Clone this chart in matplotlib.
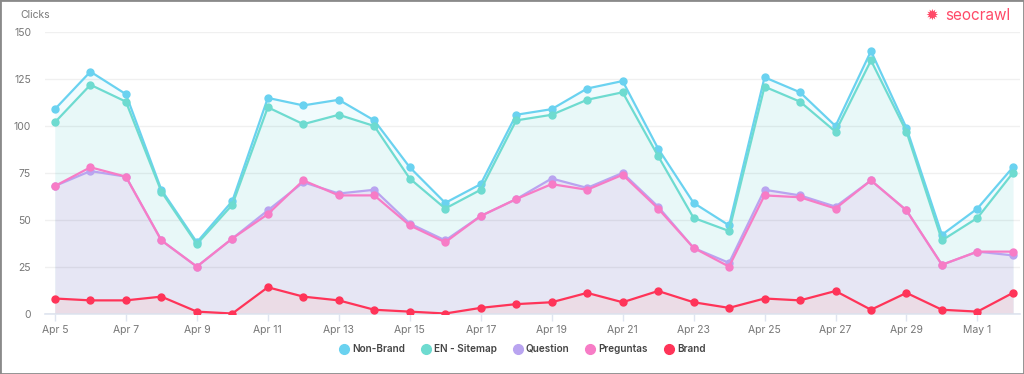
import matplotlib
matplotlib.use("Agg")
import matplotlib.pyplot as plt
from matplotlib.patches import Rectangle
from matplotlib.lines import Line2D

plt.rcParams["font.family"] = ["Inter", "DejaVu Sans"]

days = ["Apr %d" % d for d in range(5, 31)] + ["May 1", "May 2"]

non_brand = [109, 129, 117, 66, 38, 60, 115, 111, 114, 103, 78, 59, 69, 106,
             109, 120, 124, 88, 59, 47, 126, 118, 100, 140, 99, 42, 56, 78]
en_sitemap = [102, 122, 113, 65, 37, 58, 110, 101, 106, 100, 72, 56, 66, 103,
              106, 114, 118, 84, 51, 44, 121, 113, 97, 135, 97, 39, 51, 75]
question = [68, 76, 73, 39, 25, 40, 55, 70, 64, 66, 48, 39, 52, 61,
            72, 67, 75, 57, 35, 27, 66, 63, 57, 71, 55, 26, 33, 31]
preguntas = [68, 78, 73, 39, 25, 40, 53, 71, 63, 63, 47, 38, 52, 61,
             69, 66, 74, 56, 35, 25, 63, 62, 56, 71, 55, 26, 33, 33]
brand = [8, 7, 7, 9, 1, 0, 14, 9, 7, 2, 1, 0, 3, 5,
         6, 11, 6, 12, 6, 3, 8, 7, 12, 2, 11, 2, 1, 11]

# name, values, line colour, fill colour
series = [
    ("Non-Brand", non_brand, "#6ad2f0", "#f1fbfd"),
    ("EN - Sitemap", en_sitemap, "#6edbd0", "#e8f8f8"),
    ("Question", question, "#b9a4f0", "#e6e6f4"),
    ("Preguntas", preguntas, "#f77cc6", None),
    ("Brand", brand, "#ff3458", "#ebdce6"),
]

fig = plt.figure(figsize=(10.24, 3.74), dpi=100)
ax = fig.add_axes([45 / 1024, 60.5 / 374, 975 / 1024, 281.2 / 374])

x = list(range(len(days)))
for name, vals, color, fc in series:
    if fc:
        ax.fill_between(x, 0, vals, color=fc, lw=0, zorder=1)
for name, vals, color, fc in series:
    ax.plot(x, vals, color=color, lw=1.6, marker="o", ms=5, zorder=3)

ax.set_xlim(-0.28, 27.2)
ax.set_ylim(0, 150)
ax.set_yticks([0, 25, 50, 75, 100, 125, 150])
ax.grid(axis="y", color="#000000", alpha=0.06, lw=1, zorder=2)
ax.set_axisbelow(False)
for s in ["top", "right", "left"]:
    ax.spines[s].set_visible(False)
ax.spines["bottom"].set_color("#dfe5f0")
ax.spines["bottom"].set_linewidth(1.2)

ax.set_xticks(x[::2])
ax.set_xticklabels(days[::2])
ax.tick_params(axis="x", colors="#dfe5f0", length=5, width=1, labelcolor="#777777",
               labelsize=7.5, pad=3)
ax.tick_params(axis="y", length=0, labelcolor="#777777", labelsize=7.5, pad=10)

fig.text(20 / 1024, 1 - 15 / 374, "Clicks", fontsize=7.5, color="#777777",
         va="center", ha="left")
fig.text(1010 / 1024, 1 - 15 / 374, "seocrawl", fontsize=11, color="#ff4a68",
         va="center", ha="right")
fig.text(938 / 1024, 1 - 15 / 374, "\u2739", fontsize=11, color="#ff4a68",
         va="center", ha="right", family="DejaVu Sans")

handles = [Line2D([], [], ls="none", marker="o", ms=7, color=c, label=n)
           for n, v, c, f in series]
leg = fig.legend(handles=handles, loc="center", bbox_to_anchor=(0.51, 1 - 349 / 374),
                 ncol=5, frameon=False, fontsize=7.2, handletextpad=0.3,
                 columnspacing=1.6, handlelength=1.0)
for t in leg.get_texts():
    t.set_color("#444444")
    t.set_fontweight("semibold")

fig.patches.append(Rectangle((0, 0), 1, 1, transform=fig.transFigure, fill=False,
                             edgecolor="#8a8a8a", lw=2))

fig.savefig("out.png", dpi=100)
